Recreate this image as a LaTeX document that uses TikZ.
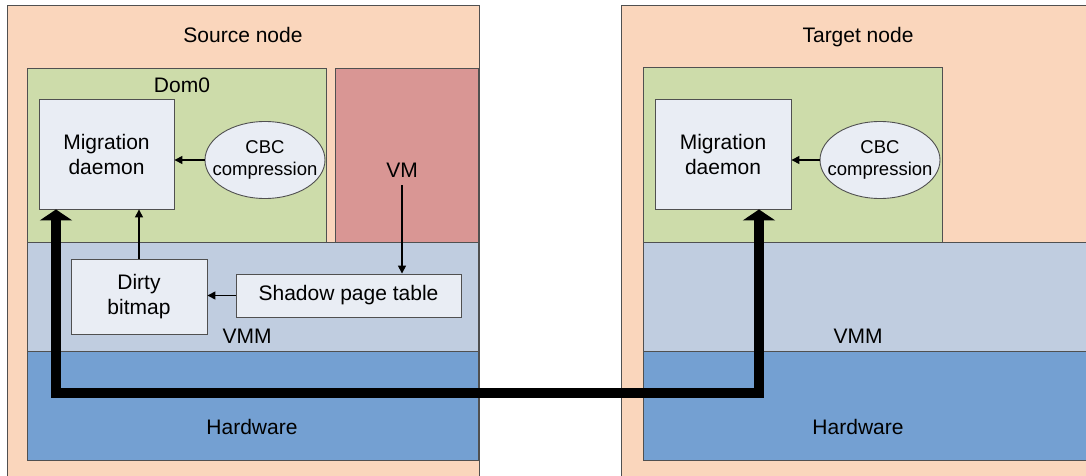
\documentclass[tikz,border=0pt]{standalone}
\usepackage{fontspec}
\setmainfont{Liberation Sans}
\usetikzlibrary{arrows.meta,shapes.geometric}
\definecolor{peach}{RGB}{250,214,188}
\definecolor{domgreen}{RGB}{205,220,170}
\definecolor{vmred}{RGB}{217,150,148}
\definecolor{vmmblue}{RGB}{192,205,224}
\definecolor{hwblue}{RGB}{116,160,210}
\definecolor{boxfill}{RGB}{233,237,244}
\definecolor{edge}{RGB}{80,80,80}
\begin{document}
\begin{tikzpicture}[x=1pt,y=-1pt,
  layer/.style={draw=edge,line width=0.9pt},
  lbl/.style={anchor=base,font=\fontsize{21}{25}\selectfont,text=black},
  compbox/.style={draw=edge,line width=0.9pt,fill=boxfill,align=center,inner sep=0pt,
    font=\fontsize{21}{25}\selectfont},
  cbc/.style={ellipse,draw=edge,line width=0.9pt,fill=boxfill,align=center,
    inner xsep=-11pt,inner ysep=0pt,
    minimum width=120pt,minimum height=77pt,font=\fontsize{18.5}{22}\selectfont},
  arr/.style={line width=1.5pt,-{Triangle[width=8pt,length=8pt]}},
  big/.style={line width=10pt,{Triangle[width=32pt,length=11pt]}-{Triangle[width=32pt,length=11pt]}}
]
\useasboundingbox (0,0) rectangle (1086,476);
\clip (0,0) rectangle (1086,476);
% outer nodes
\path[layer,fill=peach] (7,5) rectangle (479,490);
\path[layer,fill=peach] (621,5) rectangle (1100,490);
% source layers
\path[layer,fill=domgreen] (27,68) rectangle (326,242);
\path[layer,fill=vmred] (335,68) rectangle (478,242);
\path[layer,fill=vmmblue] (27,242) rectangle (478,351);
\path[layer,fill=hwblue] (27,351) rectangle (478,460);
% target layers
\path[layer,fill=domgreen] (643,67) rectangle (942,242);
\path[layer,fill=vmmblue] (643,242) rectangle (1100,351);
\path[layer,fill=hwblue] (643,351) rectangle (1100,460);
% labels
\node[lbl] (srcl) at (243,43) {Source node};
\node[lbl] (tgtl) at (858,43) {Target node};
\node[lbl] (dom0l) at (182,93) {Dom0};
\node[lbl] (vml) at (402,177) {VM};
\node[lbl] (vmml) at (247,343) {VMM};
\node[lbl] (hwl) at (252,434) {Hardware};
\node[lbl] (vmml2) at (858,343) {VMM};
\node[lbl] (hwl2) at (858,434) {Hardware};
% components
\node[compbox,minimum width=135pt,minimum height=110pt] (md) at (106.5,154) {Migration\\daemon};
\node[cbc] (cb) at (265,160) {CBC\\compression};
\node[compbox,minimum width=136pt,minimum height=75pt] (db) at (139,296.5) {Dirty\\bitmap};
\node[compbox,minimum width=225pt,minimum height=43pt] (spt) at (348.5,295.5) {Shadow page table};
\node[compbox,minimum width=136pt,minimum height=110pt] (md2) at (723,154) {Migration\\daemon};
\node[cbc] (cb2) at (880,160) {CBC\\compression};
% arrows
\coordinate (vmtop) at (402,185);
\draw[arr] (cb.west) -- (cb.west -| md.east);
\draw[arr] (cb2.west) -- (cb2.west -| md2.east);
\draw[arr] (vmtop) -- (vmtop |- spt.north);
\draw[arr] (db.north) -- (db.north |- md.south);
\draw[arr] (spt.west) -- (spt.west -| db.east);
% migration path
\coordinate (c1) at (56,393);
\coordinate (c2) at (759,393);
\draw[big] (md.south -| c1) -- (c1) -- (c2) -- (md2.south -| c2);
\end{tikzpicture}
\end{document}
